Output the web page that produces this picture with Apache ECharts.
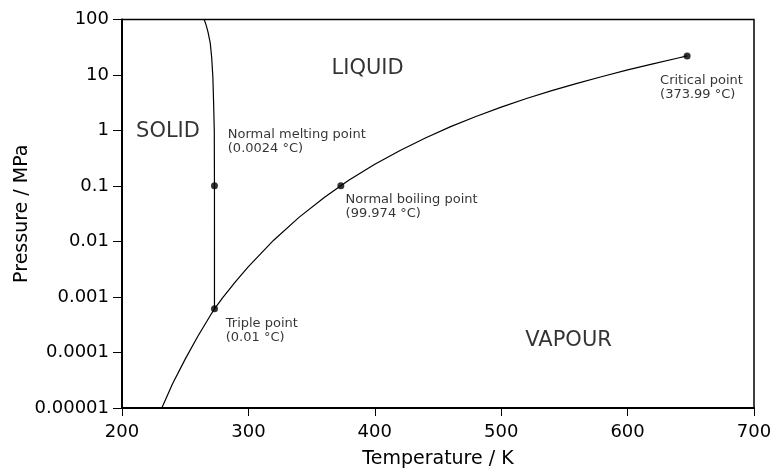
<!DOCTYPE html>
<html>
<head>
<meta charset="utf-8">
<script src="https://cdn.jsdelivr.net/npm/echarts@6/dist/echarts.min.js"></script>
<style>
  html, body { margin: 0; padding: 0; background: #fff; }
  #main { width: 771px; height: 473px; }
</style>
</head>
<body>
<div id="main"></div>
<script>
    // phase boundaries of water, T in K, p in MPa
    var subT = [231.5, 240, 250, 260, 270, 273.16];
    var subP = [0.00001, 0.0000273, 0.000076, 0.000196, 0.00047, 0.000612];

    var meltT = [273.16, 273.15, 273.0, 272.5, 271.9, 271.0, 269.8, 268.0, 266.5, 265.0];
    var meltP = [0.000612, 0.1, 1, 3, 9, 20, 38, 60, 80, 100];

    var vapT = [273.16, 280, 290, 300, 320, 340, 360, 373.12, 380, 400, 420, 440, 460, 480, 500, 520, 540, 560, 580, 600, 620, 640, 647.1];
    var vapP = [0.000612, 0.000992, 0.00192, 0.003537, 0.01055, 0.02719, 0.06219, 0.101325, 0.129, 0.2458, 0.437, 0.7335, 1.1726, 1.7905, 2.6392, 3.7663, 5.2242, 7.0752, 9.3918, 12.345, 15.901, 20.265, 22.064];

    // marked points: triple, normal melting, normal boiling, critical
    var pointT = [273.16, 273.15, 373.12, 647.1];
    var pointP = [0.000612, 0.101325, 0.101325, 22.064];

    // annotation text, anchored at top-left
    var noteT = [283.7, 376.9, 282.1, 625.7];
    var noteP = [1.147, 0.0753, 0.000445, 10.6];
    var noteText = ['Normal melting point\n(0.0024 °C)', 'Normal boiling point\n(99.974 °C)', 'Triple point\n(0.01 °C)', 'Critical point\n(373.99 °C)'];

    // phase names, anchored at centre
    var phaseT = [236.4, 394.3, 553.3];
    var phaseP = [0.944, 13.15, 0.000164];
    var phaseText = ['SOLID', 'LIQUID', 'VAPOUR'];

    var yTickLabels = ['0.00001', '0.0001', '0.001', '0.01', '0.1', '1', '10', '100'];

    function pairs(xs, ys) {
        return xs.map(function (x, i) { return [x, ys[i]]; });
    }

    var font = 'DejaVu Sans, sans-serif';
    var lineStyle = { color: '#000', width: 1.2 };

    var myChart = echarts.init(document.getElementById('main'));
    var option = {
        animation: false,
        grid: {
            left: 122, right: 17, top: 19.5, bottom: 65,
            outerBoundsMode: 'none', containLabel: false,
            show: true, borderColor: '#000', borderWidth: 1.5
        },
        xAxis: {
            type: 'value', min: 200, max: 700, interval: 100,
            name: 'Temperature / K', nameLocation: 'middle', nameGap: 42,
            nameMoveOverlap: false,
            nameTextStyle: { fontFamily: font, fontSize: 19, color: '#000' },
            axisLine: { lineStyle: { color: '#000', width: 2 } },
            axisTick: { length: 8, lineStyle: { color: '#000', width: 1 } },
            axisLabel: { fontFamily: font, fontSize: 18, color: '#000', margin: 15 },
            splitLine: { show: false }
        },
        yAxis: {
            type: 'log', logBase: 10, min: 0.00001, max: 100, interval: 1,
            name: 'Pressure / MPa', nameLocation: 'middle', nameGap: 90,
            nameMoveOverlap: false,
            nameTextStyle: { fontFamily: font, fontSize: 19, color: '#000' },
            axisLine: { lineStyle: { color: '#000', width: 2 } },
            axisTick: { length: 9, lineStyle: { color: '#000', width: 1 } },
            axisLabel: {
                fontFamily: font, fontSize: 18, color: '#000', margin: 13,
                formatter: function (v) {
                    return yTickLabels[Math.round(Math.log10(v)) + 5];
                }
            },
            splitLine: { show: false }
        },
        series: [
            { type: 'line', data: pairs(subT, subP), showSymbol: false, lineStyle: lineStyle, silent: true },
            { type: 'line', data: pairs(meltT, meltP), showSymbol: false, lineStyle: lineStyle, silent: true },
            { type: 'line', data: pairs(vapT, vapP), showSymbol: false, lineStyle: lineStyle, silent: true },
            {
                type: 'scatter', data: pairs(pointT, pointP), symbolSize: 7,
                itemStyle: { color: '#000' }, z: 5
            },
            {
                type: 'scatter', symbolSize: 0,
                data: noteT.map(function (t, i) {
                    return { value: [t, noteP[i]], label: { formatter: noteText[i] } };
                }),
                label: {
                    show: true, position: [0, 0], align: 'left', verticalAlign: 'top',
                    fontFamily: font, fontSize: 13, lineHeight: 14, color: '#000'
                }
            },
            {
                type: 'scatter', symbolSize: 0,
                data: phaseT.map(function (t, i) {
                    return { value: [t, phaseP[i]], label: { formatter: phaseText[i] } };
                }),
                label: {
                    show: true, position: [0, 0], align: 'center', verticalAlign: 'middle',
                    fontFamily: font, fontSize: 21, color: '#000'
                }
            }
        ]
    };
    myChart.setOption(option);

    window.onresize = function () {
        myChart.resize();
    }
</script>
</body>
</html>
